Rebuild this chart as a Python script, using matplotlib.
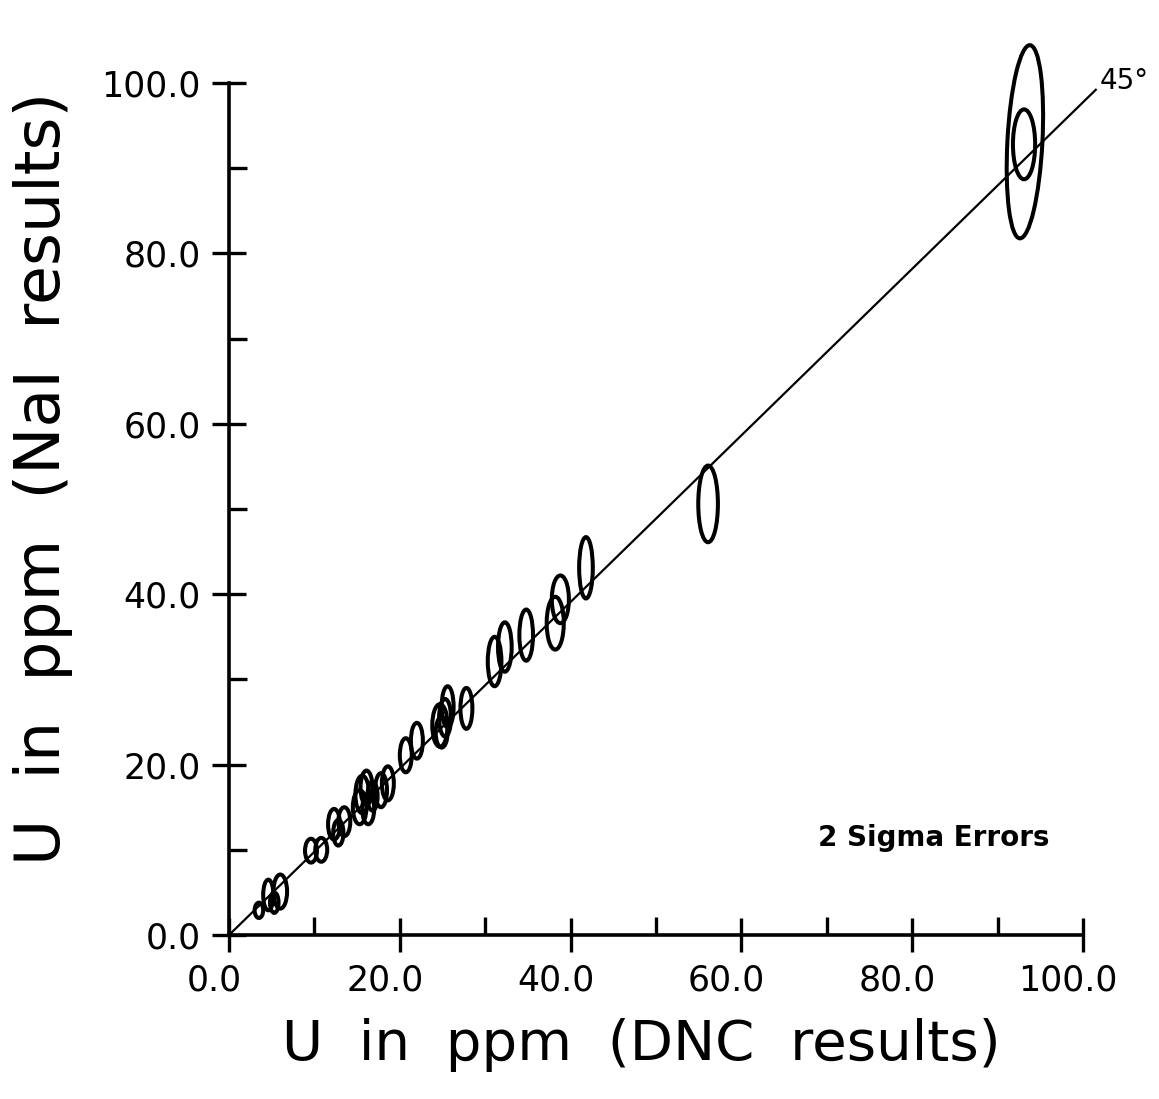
import numpy as np
import matplotlib
matplotlib.use('Agg')
import matplotlib.pyplot as plt
from matplotlib.patches import Ellipse
from matplotlib.ticker import MultipleLocator, FormatStrFormatter
from matplotlib.transforms import ScaledTranslation

# DNC result (x), NaI result (y), 2 sigma errors on each (semi axes of the ellipses)
dnc = [3.5, 4.6, 5.3, 6.0, 9.6, 10.8, 12.3, 12.8, 13.5, 15.3, 15.6, 16.3, 16.1, 16.8,
       17.8, 18.6, 20.7, 22.0, 24.7, 24.9, 25.3, 25.6, 27.8, 31.1, 32.3, 34.8, 38.2,
       38.8, 41.8, 56.1, 93.1, 93.2]
nai = [2.9, 4.7, 3.8, 5.1, 9.9, 10.0, 13.0, 12.0, 13.3, 15.0, 16.5, 14.8, 17.3, 16.3,
       17.0, 17.8, 21.1, 22.8, 24.6, 23.8, 25.5, 26.8, 26.6, 32.1, 33.8, 35.2, 36.6,
       39.4, 43.1, 50.6, 92.8, 93.1]
err_dnc = [0.5, 0.6, 0.5, 0.8, 0.7, 0.7, 0.7, 0.6, 0.7, 0.8, 0.8, 0.7, 0.7, 0.6,
           0.7, 0.7, 0.7, 0.7, 0.9, 0.7, 0.7, 0.7, 0.7, 0.8, 0.8, 0.8, 1.0,
           1.0, 0.8, 1.15, 1.3, 2.05]
err_nai = [0.9, 1.8, 1.2, 2.0, 1.4, 1.4, 1.8, 1.5, 1.7, 2.0, 2.2, 1.8, 2.0, 1.7,
           2.0, 2.0, 2.0, 2.1, 2.5, 1.8, 2.2, 2.4, 2.4, 2.9, 2.9, 3.0, 3.1,
           2.8, 3.6, 4.5, 4.1, 11.35]
tilt = [0]*31 + [-3]

line_x = [0, 101.5]
line_y = [0, 99.2]

fig = plt.figure(figsize=(11.59, 10.99), dpi=100)
ax = fig.add_axes([0.1976, 0.1492, 0.7368, 0.7753])
ax.set_xlim(0, 100)
ax.set_ylim(0, 100)

for x, y, ex, ey, a in zip(dnc, nai, err_dnc, err_nai, tilt):
    e = Ellipse((x, y), 2*ex, 2*ey, angle=a, fill=False, ec='black', lw=2.9, clip_on=False)
    ax.add_patch(e)

ax.plot(line_x, line_y, color='black', lw=1.6, clip_on=False)
ax.text(102.0, 98.6, '45°', fontsize=20, ha='left', va='bottom')
ax.text(69.0, 11.4, '2 Sigma Errors', fontsize=20, fontweight='bold', ha='left', va='center')

ax.spines['top'].set_visible(False)
ax.spines['right'].set_visible(False)
ax.spines['left'].set_linewidth(2.6)
ax.spines['bottom'].set_linewidth(2.6)

ax.xaxis.set_major_locator(MultipleLocator(20))
ax.xaxis.set_minor_locator(MultipleLocator(10))
ax.yaxis.set_major_locator(MultipleLocator(20))
ax.yaxis.set_minor_locator(MultipleLocator(10))
ax.xaxis.set_major_formatter(FormatStrFormatter('%.1f'))
ax.yaxis.set_major_formatter(FormatStrFormatter('%.1f'))
ax.tick_params(which='major', direction='inout', length=25, width=2.4, labelsize=25, pad=8)
ax.tick_params(which='minor', direction='in', length=13, width=2.4)

for lab in ax.get_xticklabels():
    lab.set_transform(lab.get_transform() + ScaledTranslation(-0.15, 0, fig.dpi_scale_trans))

fig.text(0.553, 0.049, 'U  in  ppm  (DNC  results)', fontsize=40.5, ha='center', va='center')
fig.text(0.037, 0.565, 'U  in  ppm  (NaI  results)', fontsize=45.5, ha='center', va='center',
         rotation=90)

fig.savefig('out.png', dpi=100, facecolor='white')
